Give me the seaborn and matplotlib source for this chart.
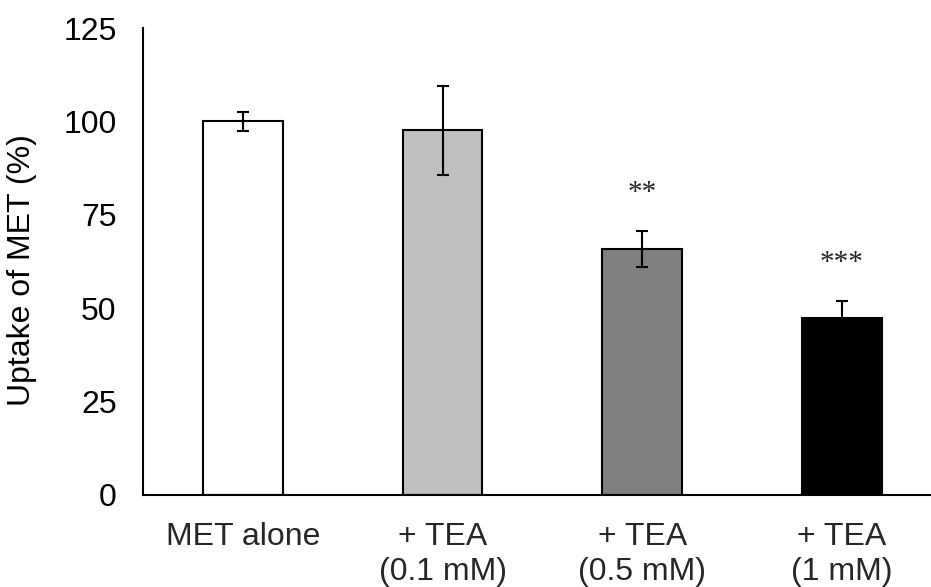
import matplotlib
matplotlib.use("Agg")
import matplotlib.pyplot as plt
import seaborn as sns
import pandas as pd

categories = ["MET alone", "+ TEA\n(0.1 mM)", "+ TEA\n(0.5 mM)", "+ TEA\n(1 mM)"]
uptake = [100.0, 97.6, 65.7, 47.2]
sem = [2.5, 11.9, 4.8, 4.8]
signif = ["", "", "**", "***"]
bar_colors = ["#ffffff", "#bfbfbf", "#808080", "#000000"]
y_ticks = [0, 25, 50, 75, 100, 125]

sns.set_theme(style="white")
plt.rcParams["font.family"] = ["Liberation Sans", "DejaVu Sans"]

df = pd.DataFrame({"cond": categories, "uptake": uptake})

fig = plt.figure(figsize=(9.31, 5.87), dpi=100)
ax = fig.add_axes([143 / 931, (587 - 494.7) / 587, (931 - 143) / 931, (494.7 - 28) / 587])

sns.barplot(data=df, x="cond", y="uptake", hue="cond", palette=bar_colors,
            order=categories, hue_order=categories, errorbar=None, width=0.4,
            edgecolor="black", linewidth=1.5, legend=False, ax=ax, zorder=2)

ax.errorbar(range(len(categories)), uptake, yerr=sem, fmt="none", ecolor="black",
            elinewidth=1.5, capsize=4.5, capthick=1.5, zorder=3)

for i, s in enumerate(signif):
    if s:
        ax.text(i, uptake[i] + sem[i] + 8.3, s, ha="center", va="baseline",
                fontsize=21, family=["Liberation Serif", "DejaVu Serif"], color="#222222")

ax.set_ylim(0, 125)
ax.set_xlim(-0.5, 3.446)
ax.set_yticks(y_ticks)
ax.set_yticklabels([str(v) for v in y_ticks])
ax.tick_params(axis="y", direction="in", length=7.2, width=1.5, pad=19, labelsize=23, colors="black")
ax.tick_params(axis="x", length=0, pad=20, labelsize=23)
for lbl in ax.get_xticklabels():
    lbl.set_linespacing(1.2)
ax.set_xlabel("")
ax.set_ylabel("Uptake of MET (%)", fontsize=23, color="black")
ax.yaxis.set_label_coords(-0.1345, 0.481)

for side in ["top", "right"]:
    ax.spines[side].set_visible(False)
for side in ["left", "bottom"]:
    ax.spines[side].set_color("black")
    ax.spines[side].set_linewidth(1.5)
ax.set_facecolor("white")
fig.patch.set_facecolor("white")

fig.savefig("out.png", dpi=100)
